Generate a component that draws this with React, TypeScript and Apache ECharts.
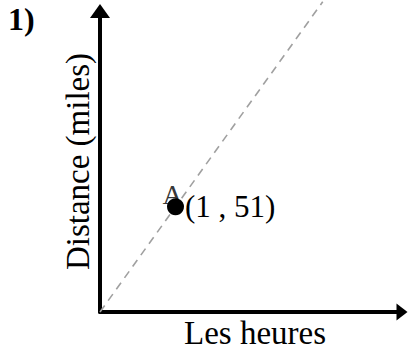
import React, { useEffect, useRef } from "react";
import * as echarts from "echarts";

const xRange = [0, 4];
const yRange = [0, 146];
const lineX = [0, 2.95];
const lineY = [0, 150.5];
const pointA = [1, 51];
const pointName = "A";
const pointLabel = "(1 , 51)";
const xTitle = "Les heures";
const yTitle = "Distance (miles)";
const problemLabel = "1)";

const FONT = "'Liberation Serif', 'Times New Roman', serif";

export default function App() {
  const ref = useRef<HTMLDivElement>(null);
  useEffect(() => {
    if (!ref.current) return;
    const chart = echarts.init(ref.current, null, { renderer: "svg" });
    chart.setOption({
      animation: false,
      backgroundColor: "#ffffff",
      grid: { left: 100, right: 7, top: 11, bottom: 39, containLabel: false },
      xAxis: {
        type: "value",
        min: xRange[0],
        max: xRange[1],
        name: xTitle,
        nameLocation: "middle",
        nameGap: 4,
        nameTextStyle: { fontFamily: FONT, fontSize: 33, color: "#000", verticalAlign: "top", padding: [0, 0, 0, 8] },
        axisLine: {
          show: true,
          symbol: ["none", "triangle"],
          symbolSize: [17, 11],
          lineStyle: { color: "#000", width: 4 },
        },
        axisTick: { show: false },
        axisLabel: { show: false },
        splitLine: { show: false },
      },
      yAxis: {
        type: "value",
        min: yRange[0],
        max: yRange[1],
        name: yTitle,
        nameLocation: "middle",
        nameGap: 6,
        nameRotate: 90,
        nameTextStyle: { fontFamily: FONT, fontSize: 33, color: "#000", verticalAlign: "bottom" },
        axisLine: {
          show: true,
          onZero: false,
          symbol: ["none", "triangle"],
          symbolSize: [20, 14],
          lineStyle: { color: "#000", width: 4 },
        },
        axisTick: { show: false },
        axisLabel: { show: false },
        splitLine: { show: false },
      },
      graphic: [
        {
          type: "text",
          left: 8,
          top: 3,
          style: { text: problemLabel, font: `bold 32px ${FONT}`, fill: "#000" },
        },
      ],
      series: [
        {
          type: "line",
          data: lineX.map((x, i) => [x, lineY[i]]),
          showSymbol: false,
          clip: false,
          lineStyle: { color: "#a0a0a0", width: 1.6, type: [8, 6] },
          silent: true,
          z: 1,
        },
        {
          type: "scatter",
          data: [pointA],
          symbol: "circle",
          symbolSize: 17,
          itemStyle: { color: "#000", opacity: 1 },
          label: {
            show: true,
            position: "right",
            distance: 1,
            formatter: pointLabel,
            fontFamily: FONT,
            fontSize: 31,
            color: "#000",
          },
          z: 3,
        },
        {
          type: "scatter",
          data: [pointA],
          symbolSize: 1,
          itemStyle: { color: "transparent" },
          label: {
            show: true,
            position: "top",
            distance: 0,
            offset: [-3, 2],
            formatter: pointName,
            fontFamily: FONT,
            fontSize: 28,
            color: "#000",
          },
          z: 4,
        },
      ],
    });
    return () => chart.dispose();
  }, []);
  return (
    <div
      ref={ref}
      style={{ position: "fixed", left: 0, top: 0, width: 409, height: 354 }}
    />
  );
}
